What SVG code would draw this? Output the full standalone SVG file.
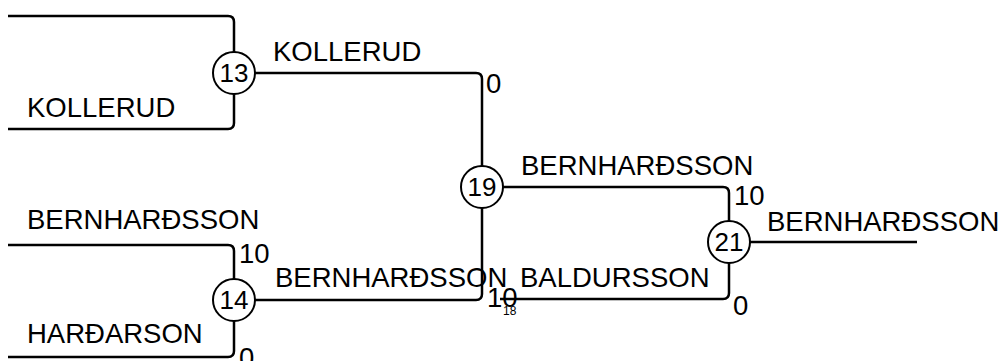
<svg xmlns="http://www.w3.org/2000/svg" width="1008" height="361" viewBox="0 0 1008 361">
<style>
.e{fill:none;stroke:#000;stroke-width:2.5}
.n{fill:#fff;stroke:#000;stroke-width:2}
text{font-family:"Liberation Sans",Arial,sans-serif;font-size:27.5px;fill:#000}
.c{text-anchor:middle;font-size:26px}
.s{font-size:12px}
</style>
<rect width="1008" height="361" fill="#fff"/>
<g id="connectors">
<path class="e" d="M8,16 H228 Q234,16 234,22 V52"/>
<path class="e" d="M8,129 H228 Q234,129 234,123 V94"/>
<path class="e" d="M255,73 H476 Q482,73 482,79 V166"/>
<path class="e" d="M8,245 H228 Q234,245 234,251 V279"/>
<path class="e" d="M8,357 H228 Q234,357 234,351 V321"/>
<path class="e" d="M255,300 H476 Q482,300 482,294 V208"/>
<path class="e" d="M503,187 H723 Q729,187 729,193 V221"/>
<path class="e" d="M500,299 H723 Q729,299 729,293 V263"/>
<path class="e" d="M750,242 H917"/>
</g>
<g id="labels">
<text x="27" y="117">KOLLERUD</text>
<text x="273" y="61">KOLLERUD</text>
<text x="486" y="93">0</text>
<text x="521" y="175">BERNHARÐSSON</text>
<text x="734" y="205">10</text>
<text x="767" y="231">BERNHARÐSSON</text>
<text x="520" y="287">BALDURSSON</text>
<text x="733" y="315">0</text>
<text x="275" y="287">BERNHARÐSSON</text>
<text x="487" y="307">10</text>
<text x="27" y="229">BERNHARÐSSON</text>
<text x="239" y="263">10</text>
<text x="27" y="343">HARÐARSON</text>
<text x="239" y="367">0</text>
</g>
<g id="node-13"><circle class="n" cx="234" cy="73" r="21"/><text class="c" x="234" y="82">13</text></g>
<g id="node-14"><circle class="n" cx="234" cy="300" r="21"/><text class="c" x="234" y="309">14</text></g>
<g id="node-19"><circle class="n" cx="482" cy="187" r="21"/><text class="c" x="482" y="196">19</text></g>
<g id="node-21"><circle class="n" cx="729" cy="242" r="21"/><text class="c" x="729" y="251">21</text></g>
<g id="node-18"><text class="s" x="503" y="315">18</text></g>
</svg>
